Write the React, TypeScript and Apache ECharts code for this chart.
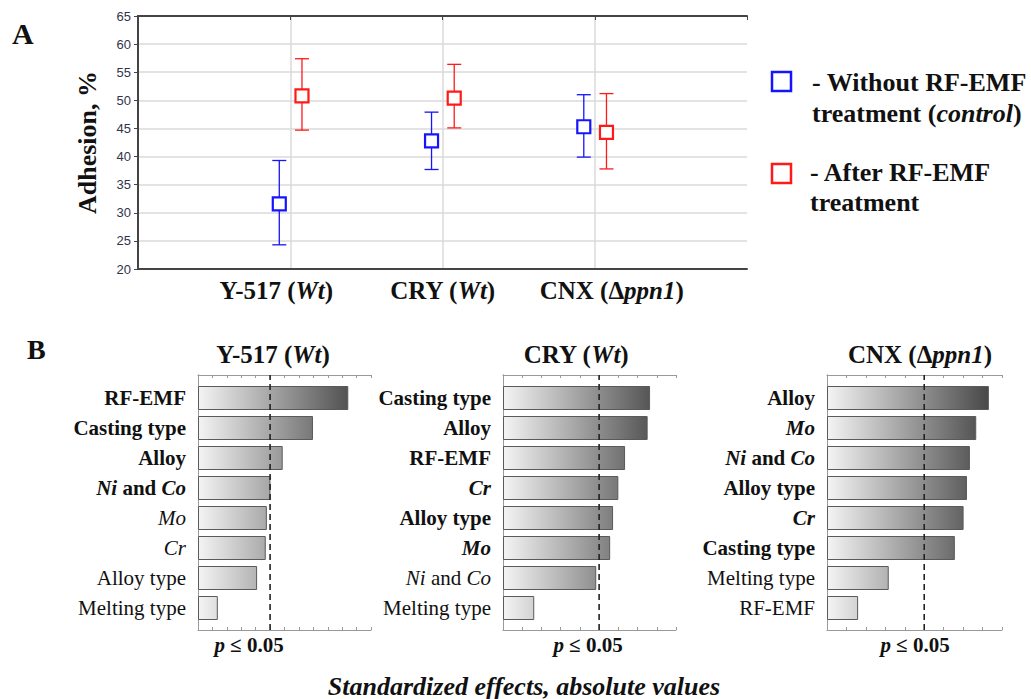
import React, { useEffect, useRef } from 'react';
import * as echarts from 'echarts';

const SERIF = '"Liberation Serif", "Times New Roman", serif';
const SANS = '"Liberation Sans", Arial, sans-serif';

// ---------- Panel A data ----------
const strainNames = ['Y-517', 'CRY', 'CNX'];
const strainUpright = ['', '', 'Δ'];
const strainItalic = ['Wt', 'Wt', 'ppn1'];
const controlMean = [31.6, 42.8, 45.3];
const controlLow = [24.3, 37.7, 39.9];
const controlHigh = [39.3, 47.9, 51.0];
const treatedMean = [50.8, 50.4, 44.3];
const treatedLow = [44.7, 45.1, 37.8];
const treatedHigh = [57.4, 56.4, 51.2];
const adhesionMin = 20;
const adhesionMax = 65;
const adhesionStep = 5;

// ---------- Panel B data ----------
const y517Factors = ['RF-EMF', 'Casting type', 'Alloy', 'Ni and Co', 'Mo', 'Cr', 'Alloy type', 'Melting type'];
const y517Effects = [4.17, 3.19, 2.35, 2.01, 1.91, 1.88, 1.64, 0.55];
const cryFactors = ['Casting type', 'Alloy', 'RF-EMF', 'Cr', 'Alloy type', 'Mo', 'Ni and Co', 'Melting type'];
const cryEffects = [3.06, 3.01, 2.54, 2.40, 2.29, 2.23, 1.94, 0.65];
const cnxFactors = ['Alloy', 'Mo', 'Ni and Co', 'Alloy type', 'Cr', 'Casting type', 'Melting type', 'RF-EMF'];
const cnxEffects = [3.33, 3.07, 2.94, 2.88, 2.81, 2.63, 1.27, 0.64];
const effectAxisMax = [4.8, 3.6, 3.6];
const effectTickStep = 0.4;
const pCritical = 2.0;
const elementNames = ['Ni', 'Co', 'Mo', 'Cr'];

const panels = [
  { factors: y517Factors, effects: y517Effects, max: effectAxisMax[0], strain: 0 },
  { factors: cryFactors, effects: cryEffects, max: effectAxisMax[1], strain: 1 },
  { factors: cnxFactors, effects: cnxEffects, max: effectAxisMax[2], strain: 2 },
];

// layout (positions only)
const panelBoxes = [
  { left: 198, width: 173, titleX: 273, pX: 249 },
  { left: 503, width: 173, titleX: 576, pX: 588 },
  { left: 827, width: 175, titleX: 920, pX: 915 },
];
const FRAME_TOP = 375;
const FRAME_H = 255;
const BAND_TOP = 383;
const BAND_H = 240;
// horizontal nudge of the panel A category labels (px; negative = left)
const strainLabelShift = [-14, 0, 17];

const richSet = (size: number, color = '#111') => ({
  r: { fontFamily: SERIF, fontSize: size, color },
  b: { fontFamily: SERIF, fontSize: size, color, fontWeight: 'bold' },
  i: { fontFamily: SERIF, fontSize: size, color, fontStyle: 'italic' },
  bi: { fontFamily: SERIF, fontSize: size, color, fontWeight: 'bold', fontStyle: 'italic' },
});
const richFill = (size: number, color = '#111') => ({
  r: { fontFamily: SERIF, fontSize: size, fill: color },
  b: { fontFamily: SERIF, fontSize: size, fill: color, fontWeight: 'bold' },
  i: { fontFamily: SERIF, fontSize: size, fill: color, fontStyle: 'italic' },
  bi: { fontFamily: SERIF, fontSize: size, fill: color, fontWeight: 'bold', fontStyle: 'italic' },
});

const strainLabel = (i: number) =>
  `{b|${strainNames[i]} (${strainUpright[i]}}{bi|${strainItalic[i]}}{b|)}`;

const factorLabel = (name: string, significant: boolean) => {
  const word = significant ? 'b' : 'r';
  const el = significant ? 'bi' : 'i';
  const toks = name.split(' ');
  return toks
    .map((t, k) => `{${elementNames.includes(t) ? el : word}|${t}${k < toks.length - 1 ? ' ' : ''}}`)
    .join('');
};

const grayAt = (t: number) => {
  const v = Math.round(244 - (244 - 58) * Math.max(0, Math.min(1, t)));
  const h = v.toString(16).padStart(2, '0');
  return `#${h}${h}${h}`;
};

function errorSeries(name: string, color: string, offset: number, mean: number[], low: number[], high: number[]) {
  return {
    type: 'custom',
    name,
    xAxisIndex: 0,
    yAxisIndex: 0,
    z: 10,
    data: mean.map((m, i) => [i + 1 + offset, m, low[i], high[i]]),
    encode: { x: 0, y: [1, 2, 3] },
    renderItem: (_params: any, api: any) => {
      const x = api.value(0);
      const c = api.coord([x, api.value(1)]);
      const lo = api.coord([x, api.value(2)]);
      const hi = api.coord([x, api.value(3)]);
      const cap = 7;
      const half = 6.5;
      const ls = { stroke: color, lineWidth: 1.3 };
      return {
        type: 'group',
        children: [
          { type: 'line', shape: { x1: c[0], y1: lo[1], x2: c[0], y2: hi[1] }, style: ls },
          { type: 'line', shape: { x1: c[0] - cap, y1: lo[1], x2: c[0] + cap, y2: lo[1] }, style: ls },
          { type: 'line', shape: { x1: c[0] - cap, y1: hi[1], x2: c[0] + cap, y2: hi[1] }, style: ls },
          {
            type: 'rect',
            shape: { x: c[0] - half, y: c[1] - half, width: half * 2, height: half * 2 },
            style: { fill: '#fff', stroke: color, lineWidth: 2.2 },
          },
        ],
      };
    },
  };
}

function buildOption() {
  const grid: any[] = [
    { left: 138, top: 16, width: 609, height: 253, outerBoundsMode: 'none' },
  ];
  const strainRich: any = { ...richSet(25) };
  strainLabelShift.forEach((s, i) => {
    strainRich['pad' + i] = { width: Math.abs(s) * 2, fontSize: 25, fontFamily: SERIF };
  });
  const xAxis: any[] = [
    {
      type: 'value', gridIndex: 0, min: 0, max: 4, interval: 1, position: 'bottom',
      axisLine: { show: true, onZero: false, lineStyle: { color: '#444', width: 2 } },
      axisTick: { show: false },
      splitLine: { show: true, showMinLine: false, showMaxLine: false, lineStyle: { color: '#dadada', width: 1.5 } },
      axisLabel: {
        margin: 9,
        formatter: (v: number) => {
          const i = Math.round(v) - 1;
          if (!(Math.abs(v - Math.round(v)) < 1e-6 && i >= 0 && i < strainNames.length)) return '';
          const s = strainLabelShift[i];
          const pad = s !== 0 ? `{pad${i}| }` : '';
          return s < 0 ? strainLabel(i) + pad : pad + strainLabel(i);
        },
        rich: strainRich,
      },
    },
    {
      type: 'value', gridIndex: 0, min: 0, max: 4, interval: 1, position: 'top',
      axisLine: { show: true, onZero: false, lineStyle: { color: '#444', width: 2 } },
      axisTick: { show: true, inside: true, length: 4, lineStyle: { color: '#444' } },
      axisLabel: { show: false },
      splitLine: { show: false },
    },
  ];
  const yAxis: any[] = [
    {
      type: 'value', gridIndex: 0, min: adhesionMin, max: adhesionMax, interval: adhesionStep, position: 'left',
      axisLine: { show: true, lineStyle: { color: '#444', width: 2 } },
      axisTick: { show: false },
      splitLine: { show: true, showMinLine: false, showMaxLine: false, lineStyle: { color: '#dadada', width: 1.5 } },
      axisLabel: { margin: 7, color: '#33334a', fontFamily: SANS, fontSize: 13 },
      name: 'Adhesion, %',
      nameLocation: 'middle',
      nameRotate: 90,
      nameGap: 38,
      nameTextStyle: { fontFamily: SERIF, fontWeight: 'bold', fontSize: 26, color: '#111' },
    },
    {
      type: 'value', gridIndex: 0, min: adhesionMin, max: adhesionMax, interval: adhesionStep, position: 'right',
      axisLine: { show: true, lineStyle: { color: '#444', width: 2 } },
      axisTick: { show: true, inside: true, length: 4, lineStyle: { color: '#444' } },
      axisLabel: { show: false },
      splitLine: { show: false },
    },
  ];
  const series: any[] = [
    errorSeries('Without RF-EMF treatment (control)', '#1414ff', -0.072, controlMean, controlLow, controlHigh),
    errorSeries('After RF-EMF treatment', '#ff1a1a', 0.077, treatedMean, treatedLow, treatedHigh),
  ];
  const graphic: any[] = [];

  panels.forEach((p, k) => {
    const box = panelBoxes[k];
    const frameGrid = grid.length;
    grid.push({ left: box.left, top: FRAME_TOP, width: box.width, height: FRAME_H, outerBoundsMode: 'none' });
    const bandGrid = grid.length;
    grid.push({ left: box.left, top: BAND_TOP, width: box.width, height: BAND_H, outerBoundsMode: 'none' });

    const frameX = xAxis.length;
    const frameAxisCommon = {
      type: 'value', gridIndex: frameGrid, min: 0, max: p.max, interval: effectTickStep,
      axisLine: { show: true, onZero: false, lineStyle: { color: '#9a9a9a', width: 1 } },
      axisTick: { show: true, inside: true, length: 3, lineStyle: { color: '#9a9a9a' } },
      axisLabel: { show: false },
      splitLine: { show: false },
    };
    xAxis.push({ ...frameAxisCommon, position: 'bottom' });
    xAxis.push({ ...frameAxisCommon, position: 'top' });
    const bandX = xAxis.length;
    xAxis.push({
      type: 'value', gridIndex: bandGrid, min: 0, max: p.max, interval: effectTickStep, show: false,
    });

    const frameY = yAxis.length;
    const frameYCommon = {
      type: 'value', gridIndex: frameGrid, min: 0, max: 1,
      axisLine: { show: true, lineStyle: { color: '#9a9a9a', width: 1 } },
      axisTick: { show: false }, axisLabel: { show: false }, splitLine: { show: false },
    };
    yAxis.push({ ...frameYCommon, position: 'left' });
    yAxis.push({ ...frameYCommon, position: 'right' });
    const bandY = yAxis.length;
    yAxis.push({
      type: 'category', gridIndex: bandGrid, data: p.factors, inverse: true,
      position: 'left',
      axisLine: { show: false },
      axisTick: { show: true, inside: true, length: 3, alignWithLabel: true, lineStyle: { color: '#9a9a9a' } },
      splitLine: { show: false },
      axisLabel: {
        margin: 12,
        formatter: (v: string, idx: number) => factorLabel(v, p.effects[idx] > pCritical),
        rich: richSet(21),
      },
    });

    series.push({
      type: 'bar',
      xAxisIndex: bandX,
      yAxisIndex: bandY,
      barWidth: 24,
      data: p.effects.map((v) => ({
        value: v,
        itemStyle: {
          color: new echarts.graphic.LinearGradient(0, 0, 1, 0, [
            { offset: 0, color: grayAt(0) },
            { offset: 1, color: grayAt(v / p.max) },
          ]),
        },
      })),
      itemStyle: { borderColor: '#5a5a5a', borderWidth: 1 },
      z: 2,
    });
    series.push({
      type: 'line',
      xAxisIndex: frameX,
      yAxisIndex: frameY,
      data: [[pCritical, 0], [pCritical, 1]],
      symbol: 'none',
      lineStyle: { color: '#222', width: 1.6, type: [6, 4] },
      z: 5,
    });

    graphic.push({
      type: 'text', x: box.titleX, y: 354,
      style: { text: strainLabel(p.strain), rich: richFill(25), align: 'center', verticalAlign: 'middle' },
    });
    graphic.push({
      type: 'text', x: box.pX, y: 645,
      style: { text: '{bi|p}{b| ≤ 0.05}', rich: richFill(21), align: 'center', verticalAlign: 'middle' },
    });
  });

  graphic.push(
    { type: 'text', x: 12, y: 33, style: { text: 'A', font: `bold 30px ${SERIF}`, fill: '#111', align: 'left', verticalAlign: 'middle' } },
    { type: 'text', x: 27, y: 349, style: { text: 'B', font: `bold 28px ${SERIF}`, fill: '#111', align: 'left', verticalAlign: 'middle' } },
    {
      type: 'text', x: 524, y: 686,
      style: { text: 'Standardized effects, absolute values', font: `italic bold 26px ${SERIF}`, fill: '#111', align: 'center', verticalAlign: 'middle' },
    },
    // legend
    { type: 'rect', shape: { x: 772, y: 72, width: 19, height: 19 }, style: { fill: '#fff', stroke: '#1414ff', lineWidth: 2.5 } },
    { type: 'rect', shape: { x: 772, y: 164, width: 19, height: 19 }, style: { fill: '#fff', stroke: '#ff1a1a', lineWidth: 2.5 } },
    { type: 'text', x: 812, y: 82, style: { text: '{b|- Without RF-EMF}', rich: richFill(26), align: 'left', verticalAlign: 'middle' } },
    { type: 'text', x: 812, y: 113, style: { text: '{b|treatment (}{bi|control}{b|)}', rich: richFill(26), align: 'left', verticalAlign: 'middle' } },
    { type: 'text', x: 810, y: 172, style: { text: '{b|- After RF-EMF}', rich: richFill(26), align: 'left', verticalAlign: 'middle' } },
    { type: 'text', x: 810, y: 202, style: { text: '{b|treatment}', rich: richFill(26), align: 'left', verticalAlign: 'middle' } },
  );

  return {
    animation: false,
    backgroundColor: '#ffffff',
    textStyle: { fontFamily: SERIF },
    grid,
    xAxis,
    yAxis,
    series,
    graphic,
  };
}

export default function App() {
  const ref = useRef<HTMLDivElement>(null);
  useEffect(() => {
    document.body.style.margin = '0';
    if (!ref.current) return;
    const chart = echarts.init(ref.current, undefined, { renderer: 'svg' });
    chart.setOption(buildOption() as any);
    return () => chart.dispose();
  }, []);
  return <div ref={ref} style={{ width: 1031, height: 699 }} />;
}
